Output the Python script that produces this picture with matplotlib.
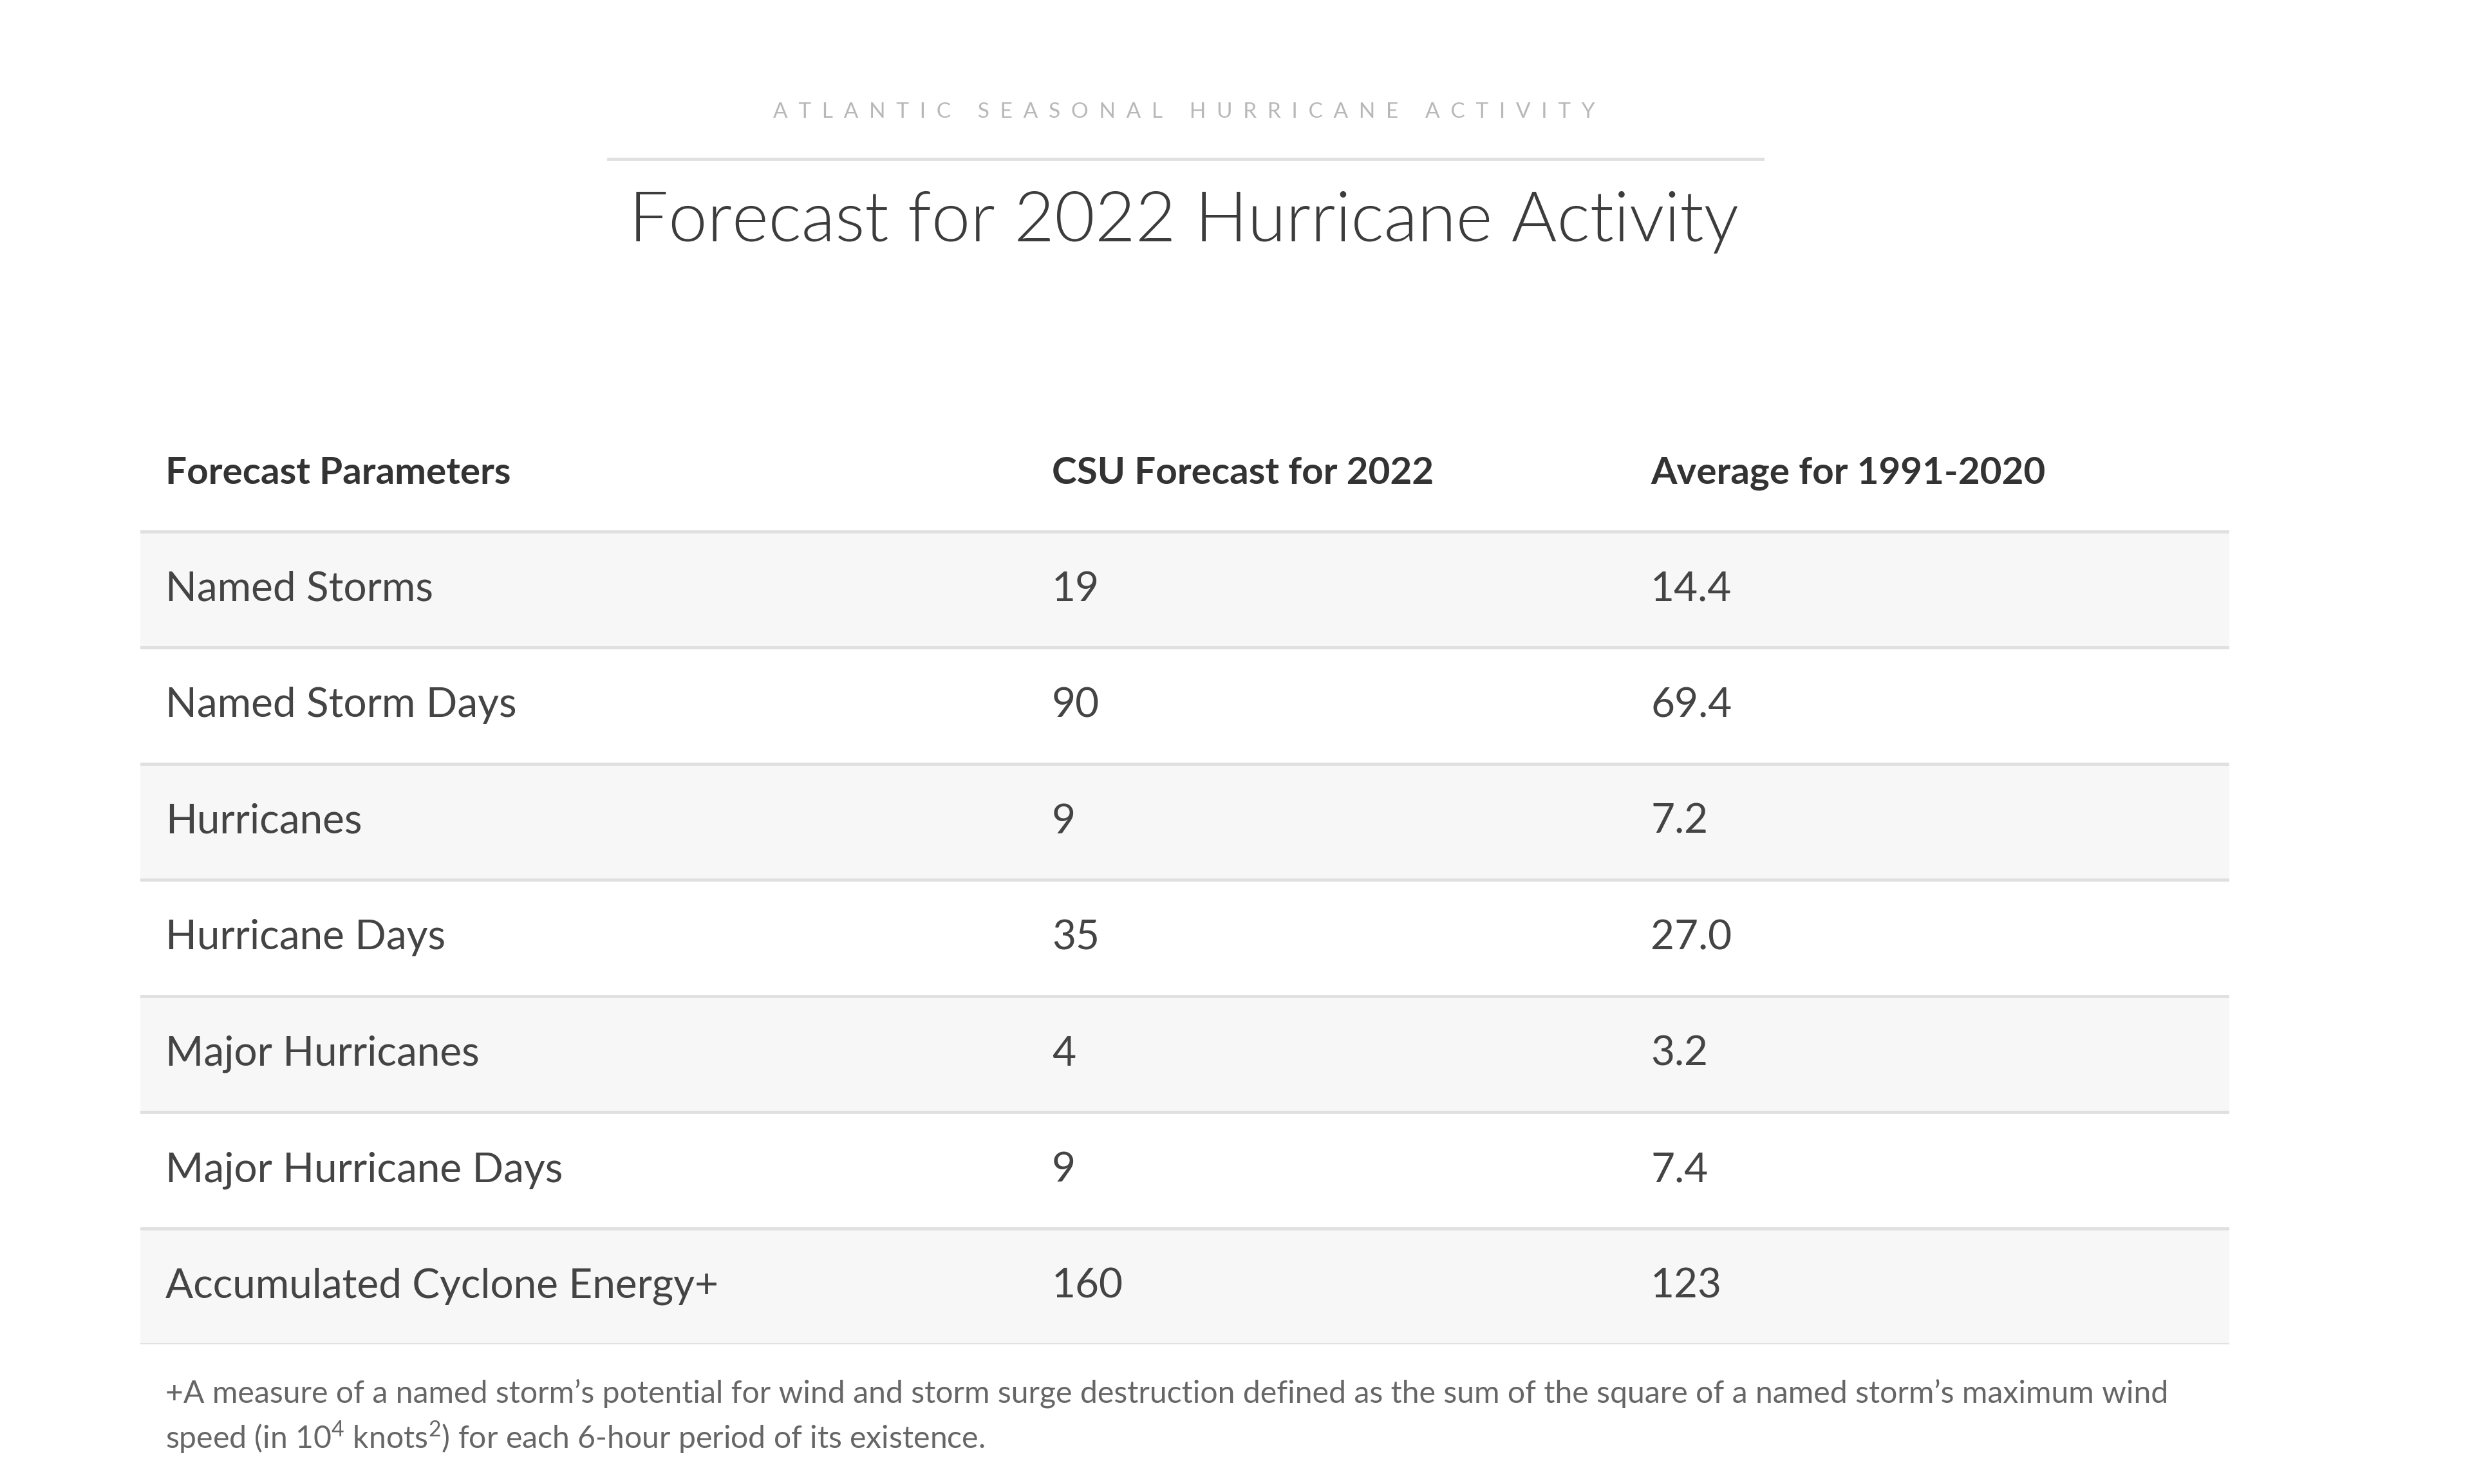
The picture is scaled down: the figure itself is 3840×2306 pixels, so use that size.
import matplotlib.pyplot as plt
from matplotlib import font_manager

# data of the table
params = ["Named Storms", "Named Storm Days", "Hurricanes", "Hurricane Days",
          "Major Hurricanes", "Major Hurricane Days", "Accumulated Cyclone Energy+"]
csu_2022 = ["19", "90", "9", "35", "4", "9", "160"]
avg_1991_2020 = ["14.4", "69.4", "7.2", "27.0", "3.2", "7.4", "123"]
headers = ["Forecast Parameters", "CSU Forecast for 2022", "Average for 1991-2020"]

subtitle = "ATLANTIC SEASONAL HURRICANE ACTIVITY"
title = "Forecast for 2022 Hurricane Activity"
note_1 = "+A measure of a named storm\u2019s potential for wind and storm surge destruction defined as the sum of the square of a named storm\u2019s maximum wind"
note_2 = r"speed (in 10$^\mathregular{4}$ knots$^\mathregular{2}$) for each 6-hour period of its existence."

names = {f.name for f in font_manager.fontManager.ttflist}
FONT = "Lato" if "Lato" in names else "DejaVu Sans"
plt.rcParams["font.family"] = [FONT, "DejaVu Sans"]
plt.rcParams["mathtext.fontset"] = "custom"
plt.rcParams["mathtext.rm"] = FONT

fig = plt.figure(figsize=(38.4, 23.06), dpi=100)
fig.patch.set_facecolor("white")

# heading block, letter spaced subtitle
spaced = "\u2003\u2002".join("\u2002".join(w) for w in subtitle.split())
fig.text(0.479, 1 - 174 / 2306, spaced, ha="center", va="center",
         fontsize=24, color="#b8b8b8")
fig.add_artist(plt.Line2D([945 / 3840, 2738 / 3840], [1 - 247 / 2306] * 2,
                          color="#e0e0e0", lw=3.5))
fig.text(0.479, 1 - 345 / 2306, title, ha="center", va="center",
         fontsize=78, color="#3c3c3c", fontweight=300)

# table axes: header row is -1..0, body rows 0..n
n = len(params)
ax = fig.add_axes([218 / 3840, 1 - 2089 / 2306, (3463 - 218) / 3840, (2089 - 645) / 2306])
ax.set_xlim(0, 3245)
ax.set_ylim(n, -1)
ax.axis("off")

col_x = [39, 1416, 2346]

for j, h in enumerate(headers):
    ax.text(col_x[j], -0.5, h, ha="left", va="center", fontsize=42,
            fontweight="bold", color="#333333")

for i in range(n):
    if i % 2 == 0:
        ax.axhspan(i, i + 1, color="#f7f7f7", lw=0, zorder=0)
    ax.axhline(i, color="#e0e0e0", lw=3.5, zorder=1)
    for j, col in enumerate([params, csu_2022, avg_1991_2020]):
        ax.text(col_x[j], i + 0.5, col[i], ha="left", va="center", fontsize=46,
                color="#444444")
ax.axhline(n, color="#e0e0e0", lw=3.5, zorder=1)

# footnote
fig.text(257 / 3840, 1 - 2165 / 2306, note_1, ha="left", va="center",
         fontsize=34.7, color="#666666")
fig.text(257 / 3840, 1 - 2233 / 2306, note_2, ha="left", va="center",
         fontsize=34.7, color="#666666")

fig.savefig("out.png", dpi=100, facecolor="white")
